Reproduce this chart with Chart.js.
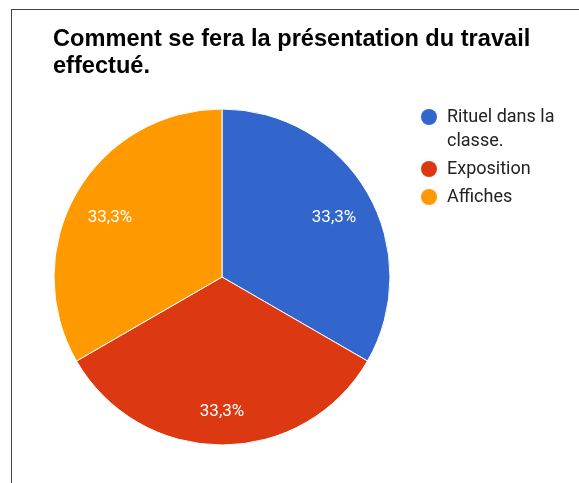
<!DOCTYPE html>
<html>
<head>
<meta charset="utf-8">
<script src="https://cdn.jsdelivr.net/npm/chart.js@4/dist/chart.umd.min.js"></script>
<style>
  html, body { margin: 0; padding: 0; background: #fff; overflow: hidden; }
  #frame { position: absolute; left: 11px; top: 9px; width: 620px; height: 520px; border: 1px solid #444; }
  #wrap { position: absolute; left: 0; top: 0; width: 579px; height: 483px; }
</style>
</head>
<body>
<div id="frame"></div>
<div id="wrap"><canvas id="pie"></canvas></div>
<script>
var titleLines = ['Comment se fera la présentation du travail', 'effectué.'];
var labels = ['Rituel dans la classe.', 'Exposition', 'Affiches'];
var values = [1, 1, 1];
var colors = ['#3366cc', '#dc3912', '#ff9900'];

// title drawn at the top left, wider than the pie area
var topTitle = {
    id: 'topTitle',
    afterDraw: function(chart) {
        var ctx = chart.ctx;
        ctx.save();
        ctx.fillStyle = '#000';
        ctx.font = 'bold 23.6px "Liberation Sans", Arial, sans-serif';
        ctx.textAlign = 'left';
        ctx.textBaseline = 'alphabetic';
        titleLines.forEach(function(line, i) {
            ctx.fillText(line, 53, 46 + i * 27);
        });
        ctx.restore();
    }
};

// percentage labels inside each slice
var sliceLabels = {
    id: 'sliceLabels',
    afterDatasetsDraw: function(chart) {
        var ctx = chart.ctx;
        var meta = chart.getDatasetMeta(0);
        var data = chart.data.datasets[0].data;
        var total = data.reduce(function(a, b) { return a + b; }, 0);
        ctx.save();
        ctx.fillStyle = '#fff';
        ctx.font = '17px Roboto, Arial, sans-serif';
        ctx.textAlign = 'center';
        ctx.textBaseline = 'middle';
        meta.data.forEach(function(arc, i) {
            var mid = (arc.startAngle + arc.endAngle) / 2;
            var r = arc.outerRadius * 0.77;
            var x = arc.x + Math.cos(mid) * r;
            var y = arc.y + Math.sin(mid) * r + 5;
            var pct = (data[i] / total * 100).toFixed(1).replace('.', ',') + '%';
            ctx.fillText(pct, x, y);
        });
        ctx.restore();
    }
};

// legend on the right, with word wrap for long labels
var sideLegend = {
    id: 'sideLegend',
    afterDraw: function(chart) {
        var ctx = chart.ctx;
        var x = 429, y = 117, maxW = 118;
        ctx.save();
        ctx.font = '18px Roboto, Arial, sans-serif';
        ctx.textBaseline = 'middle';
        chart.data.labels.forEach(function(label, i) {
            var words = label.split(' ');
            var lines = [], line = '';
            words.forEach(function(w) {
                var test = line ? line + ' ' + w : w;
                if (line && ctx.measureText(test).width > maxW) {
                    lines.push(line);
                    line = w;
                } else {
                    line = test;
                }
            });
            lines.push(line);

            ctx.fillStyle = colors[i];
            ctx.beginPath();
            ctx.arc(x, y, 8, 0, Math.PI * 2);
            ctx.fill();

            ctx.fillStyle = '#222';
            lines.forEach(function(l, j) {
                ctx.fillText(l, x + 18, y + j * 24);
            });
            y += (lines.length - 1) * 24 + 28;
        });
        ctx.restore();
    }
};

var ctx = document.getElementById('pie').getContext('2d');
new Chart(ctx, {
    type: 'pie',
    data: {
        labels: labels,
        datasets: [{
            data: values,
            backgroundColor: colors,
            borderColor: '#fff',
            borderWidth: 1
        }]
    },
    options: {
        responsive: true,
        maintainAspectRatio: false,
        animation: false,
        radius: 168,
        layout: {
            padding: { left: 54, right: 189, top: 109, bottom: 38 }
        },
        plugins: {
            legend: { display: false },
            tooltip: { enabled: false },
            title: { display: false }
        }
    },
    plugins: [topTitle, sliceLabels, sideLegend]
});
</script>
</body>
</html>
